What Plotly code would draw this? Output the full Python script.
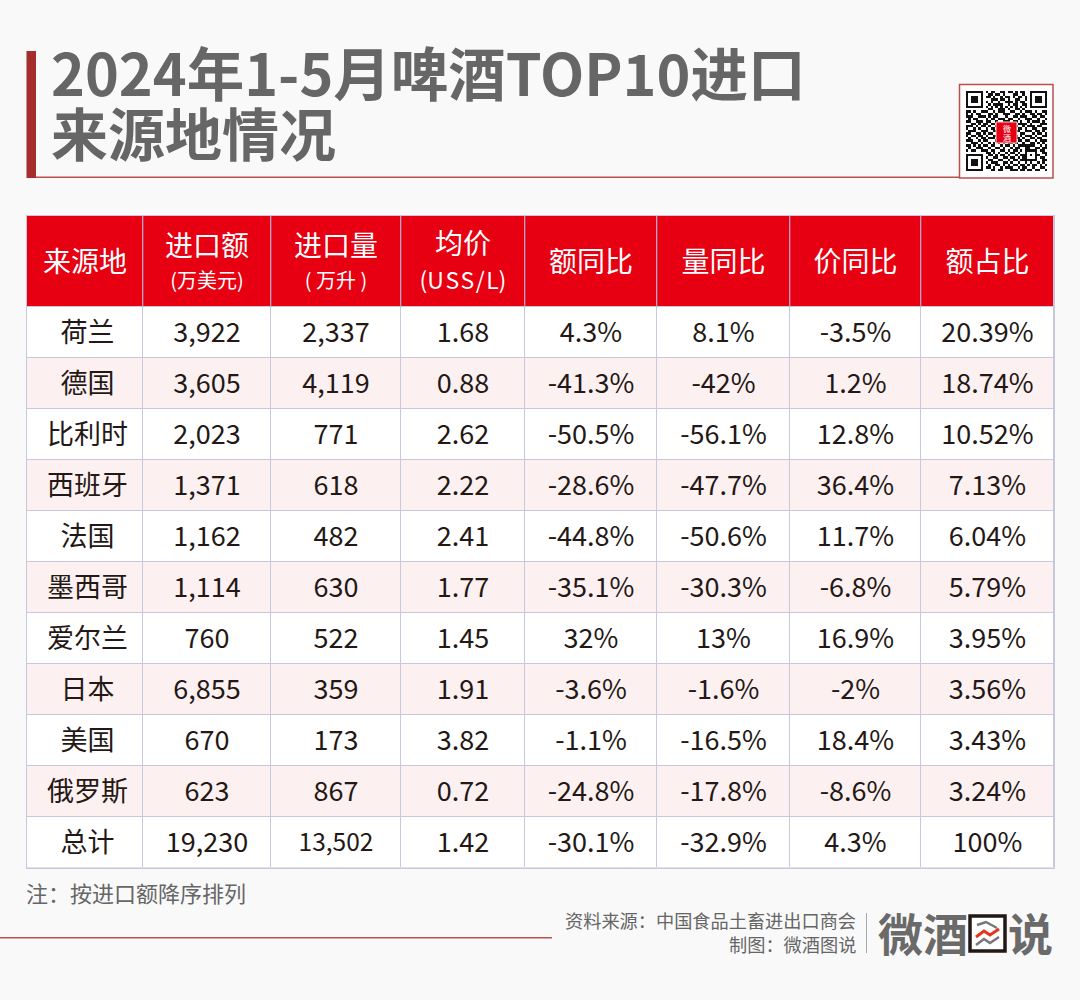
import plotly.graph_objects as go

FONT = "Noto Sans CJK SC"

W = 1080
H = 1000

# ---------- table data ----------
headers = ["来源地", "进口额", "进口量", "均价", "额同比", "量同比", "价同比", "额占比"]
sub_headers = ["", "(万美元)", "( 万升 )", "(U\u200aS\u200aS\u200a/\u200aL)", "", "", "", ""]
origin = ["荷兰", "德国", "比利时", "西班牙", "法国", "墨西哥", "爱尔兰", "日本", "美国", "俄罗斯", "总计"]
import_value = ["3,922", "3,605", "2,023", "1,371", "1,162", "1,114", "760", "6,855", "670", "623", "19,230"]
import_volume = ["2,337", "4,119", "771", "618", "482", "630", "522", "359", "173", "867", "13,502"]
avg_price = ["1.68", "0.88", "2.62", "2.22", "2.41", "1.77", "1.45", "1.91", "3.82", "0.72", "1.42"]
value_yoy = ["4.3%", "-41.3%", "-50.5%", "-28.6%", "-44.8%", "-35.1%", "32%", "-3.6%", "-1.1%", "-24.8%", "-30.1%"]
volume_yoy = ["8.1%", "-42%", "-56.1%", "-47.7%", "-50.6%", "-30.3%", "13%", "-1.6%", "-16.5%", "-17.8%", "-32.9%"]
price_yoy = ["-3.5%", "1.2%", "12.8%", "36.4%", "11.7%", "-6.8%", "16.9%", "-2%", "18.4%", "-8.6%", "4.3%"]
value_share = ["20.39%", "18.74%", "10.52%", "7.13%", "6.04%", "5.79%", "3.95%", "3.56%", "3.43%", "3.24%", "100%"]

columns = [origin, import_value, import_volume, avg_price, value_yoy, volume_yoy, price_yoy, value_share]

col_widths = [116, 128, 130, 124, 132, 133, 131, 133]
header_height = 90.5
row_height = 51

# qr modules
qr_rows = [
    "111111101011001101101011001111111",
    "100000100110110100011001001000001",
    "101110101101001011010110101011101",
    "101110100011101101001100101011101",
    "101110101010010011101011001011101",
    "100000100101111001011001101000001",
    "111111101010101010101010101111111",
    "000000000110011101001101000000000",
    "110100111001011100110010111010011",
    "101011000110100111001101001101101",
    "111001110101100010011011100110110",
    "010110001011011101100100111001001",
    "110011101100100111011010010111010",
    "001101011011010010100111101000111",
    "111010110100110100011001011101100",
    "100101001011000101100110100110011",
    "011100111001101010011100111011010",
    "110011010110010100110011000101101",
    "101101101001101011001010111010011",
    "010010110111000101101101001101100",
    "111001011000111010010110110010111",
    "001110100101010101101001001101010",
    "110101011011001011010111111100101",
    "010011100100110100101100110011011",
    "101100111011001101011010111110110",
    "000000001101010010110100100010011",
    "111111100110101101001011101011001",
    "100000101001100110110101100010110",
    "101110100110011001011011111110011",
    "101110101011100110100100101001010",
    "101110100100110101011011010110101",
    "100000101101001011100101100100110",
    "111111100011011000111011011011001",
]
qr_z = [[int(c) for c in row] for row in qr_rows]

# cell edges and centres in table units
x_edges = [0]
for w in col_widths:
    x_edges.append(x_edges[-1] + w)
y_edges = [0, header_height]
for _ in origin:
    y_edges.append(y_edges[-1] + row_height)
x_mid = [(a + b) / 2 for a, b in zip(x_edges[:-1], x_edges[1:])]
# the CJK font sits a little high, so nudge the labels down
y_mid = [(a + b) / 2 + 3 for a, b in zip(y_edges[1:-1], y_edges[2:])]

# 0 = header red, 1 = white row, 2 = pink row
cell_z = [[0] * 8]
for i in range(len(origin)):
    cell_z.append([1 + i % 2] * 8)

fig = go.Figure()

# ---------- table ----------
fig.add_trace(go.Heatmap(
    x=x_edges, y=y_edges, z=cell_z,
    zmin=0, zmax=2,
    colorscale=[[0, "#e60012"], [0.5, "#ffffff"], [1, "#fdf0f1"]],
    showscale=False, xgap=1, ygap=1, hoverinfo="skip",
))

body_x, body_y, body_text, body_size = [], [], [], []
for c, col in enumerate(columns):
    for r, val in enumerate(col):
        # first column is set slightly right of centre
        body_x.append(x_mid[c] + (2.5 if c == 0 else 0))
        body_y.append(y_mid[r])
        body_text.append(val)
        body_size.append(24.5 if val == "13,502" else 27)

fig.add_trace(go.Scatter(
    x=body_x, y=body_y, text=body_text, mode="text", textposition="middle center",
    textfont=dict(family=FONT, size=body_size, color="#231815"), hoverinfo="skip",
))

head_y = []
for c, sub in enumerate(sub_headers):
    if sub == "":
        head_y.append(49)
    elif headers[c] == "均价":
        head_y.append(31)
    else:
        head_y.append(33)
fig.add_trace(go.Scatter(
    x=x_mid, y=head_y, text=headers, mode="text", textposition="middle center",
    textfont=dict(family=FONT, size=28, color="#ffffff"), hoverinfo="skip",
))
fig.add_trace(go.Scatter(
    x=x_mid, y=[67] * 8, text=sub_headers, mode="text", textposition="middle center",
    textfont=dict(family=FONT, size=[20, 20, 20, 23, 20, 20, 20, 20], color="#ffffff"), hoverinfo="skip",
))

# qr code
fig.add_trace(go.Heatmap(
    z=qr_z, xaxis="x2", yaxis="y2", zmin=0, zmax=1,
    colorscale=[[0, "#ffffff"], [1, "#111111"]],
    showscale=False, hoverinfo="skip",
))


def px_text(x, y, text, size, color, anchor="left", weight=None):
    fig.add_annotation(
        x=x / W, y=1 - y / H, xref="paper", yref="paper", text=text, showarrow=False,
        xanchor=anchor, yanchor="middle", align=anchor,
        font=dict(family=FONT, size=size, color=color, weight=weight),
    )


def px_rect(x0, y0, x1, y1, fill, line=None, width=0):
    fig.add_shape(
        type="rect", xref="paper", yref="paper",
        x0=x0 / W, x1=x1 / W, y0=1 - y0 / H, y1=1 - y1 / H,
        fillcolor=fill, line=dict(color=line, width=width) if line else dict(width=0),
    )


def px_path(points, color, width):
    d = "M " + " L ".join(f"{x / W} {1 - y / H}" for x, y in points)
    fig.add_shape(type="path", xref="paper", yref="paper", path=d, line=dict(color=color, width=width))


# header separators are a bit redder than the body grid
TABLE_LEFT = 27
TABLE_TOP = 216
for edge in x_edges[1:-1]:
    px_rect(TABLE_LEFT + edge - 0.5, TABLE_TOP, TABLE_LEFT + edge + 0.5, TABLE_TOP + header_height, "#c4709a")

# title
px_rect(26.5, 51, 36, 178, "#a52d2b")
px_rect(36, 176.5, 960, 178, "#b9504c")
px_text(49, 71, "2024年1-5月啤酒TOP10进口", 57.5, "#666666", weight=700)
px_text(49, 131, "来源地情况", 57, "#666666", weight=700)

# qr frame and its logo
fig.add_shape(
    type="rect", xref="paper", yref="paper", layer="below",
    x0=959.5 / W, x1=1053 / W, y0=1 - 84.5 / H, y1=1 - 178 / H,
    fillcolor="#ffffff", line=dict(color="#b9504c", width=1.5),
)
px_rect(996, 122, 1017, 143, "#e60012", "#f4d4d4", 1)
px_text(1006.5, 128, "微", 8, "#ffffff", anchor="center")
px_text(1006.5, 137, "酒", 8, "#ffffff", anchor="center")

# footer
px_text(24, 892, "注：按进口额降序排列", 22, "#666666")
px_rect(0, 937, 552, 938.5, "#b9504c")
px_text(858, 920, "资料来源：中国食品土畜进出口商会", 18.2, "#666666", anchor="right")
px_text(858, 944, "制图：微酒图说", 18.2, "#666666", anchor="right")

# logo
px_rect(866, 913, 867, 953, "#aaaaaa")
px_text(876, 932, "微酒", 45, "#6a6a6a", weight=700)
px_text(1006, 932, "说", 45, "#6a6a6a", weight=700)
px_rect(970, 916, 1005, 951, "#ffffff", "#231815", 3.5)
px_path([(977, 925), (986, 922), (997, 928)], "#777777", 2.5)
px_path([(976, 937), (984, 931), (990, 935), (999, 929)], "#e8341c", 3)
px_path([(976, 945), (984, 939), (990, 943), (999, 937)], "#777777", 2.5)

fig.update_layout(
    width=W, height=H,
    margin=dict(l=0, r=0, t=0, b=0),
    paper_bgcolor="#f9f9f9",
    plot_bgcolor="#c8c8dc",
    showlegend=False,
    xaxis=dict(
        domain=[27 / W, 1054 / W], range=[0, x_edges[-1]], showgrid=False, zeroline=False,
        showticklabels=False, ticks="", showline=True, mirror=True, linecolor="#c8c8dc", linewidth=1,
    ),
    yaxis=dict(
        domain=[1 - (TABLE_TOP + y_edges[-1]) / H, 1 - TABLE_TOP / H], range=[y_edges[-1], 0],
        showgrid=False, zeroline=False,
        showticklabels=False, ticks="", showline=True, mirror=True, linecolor="#c8c8dc", linewidth=1,
    ),
    xaxis2=dict(
        domain=[966 / W, 1047 / W], anchor="y2", showgrid=False, zeroline=False,
        showticklabels=False, ticks="",
    ),
    yaxis2=dict(
        domain=[1 - 171 / H, 1 - 91 / H], anchor="x2", autorange="reversed", showgrid=False, zeroline=False,
        showticklabels=False, ticks="",
    ),
)

fig.write_html(
    "out.html",
    config={"displayModeBar": False},
    post_script="document.body.style.margin='0';document.body.style.background='#f9f9f9';",
)
